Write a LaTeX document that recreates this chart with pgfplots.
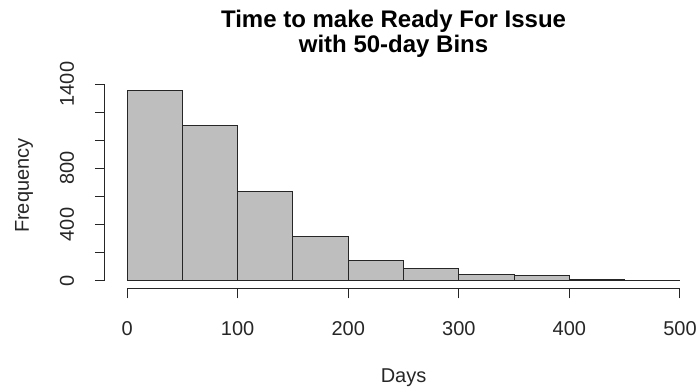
\documentclass[border=0pt]{standalone}
\usepackage{fontspec}
\setmainfont{Liberation Sans}
\usepackage{pgfplots}
\pgfplotsset{compat=1.18}

\definecolor{histfill}{HTML}{BEBEBE}
\definecolor{ink}{HTML}{262626}

\begin{document}
\begin{tikzpicture}
% page frame
\path[use as bounding box] (-78.75pt,-77.8pt) rectangle (445.5pt,216.2pt);
\clip (-78.75pt,-77.8pt) rectangle (445.5pt,216.2pt);
\begin{axis}[
  scale only axis,
  width=447.8pt, height=153.8pt,
  xmin=-20, xmax=520, ymin=-54.08, ymax=1406.08,
  clip=false,
  axis line style={draw=none},
  axis x line*=bottom, axis y line*=left,
  tick align=outside,
  major tick length=7.5pt,
  tick style={draw=ink, line width=0.75pt},
  xtick={0,100,...,500},
  ytick={0,200,...,1400},
  yticklabels={0,,400,,800,,,1400},
  /pgf/number format/assume math mode=true,
  ticklabel style={font=\fontsize{15}{18}\selectfont, text=ink},
  xticklabel style={anchor=center, yshift=-22.5pt},
  yticklabel style={xshift=-21pt, rotate=90, anchor=center},
  xlabel={Days},
  ylabel={Frequency},
  label style={font=\fontsize{15}{18}\selectfont, text=ink},
  xlabel style={at={(axis description cs:0.5,-0.4376)}, anchor=center},
  ylabel style={at={(axis description cs:-0.1357,0.5)}, anchor=center},
  title={Time to make Ready For Issue\\with 50-day Bins},
  title style={at={(axis description cs:0.4833,1.2035)}, anchor=center,
    align=center, font=\fontsize{18}{18.75}\bfseries\selectfont, text=black},
]
% histogram counts per 50-day bin
\addplot[ybar interval, fill=histfill, draw=ink, line width=0.8pt]
  coordinates {(0,1352) (50,1103) (100,638) (150,316) (200,145)
               (250,89) (300,45) (350,35) (400,5) (450,1) (500,1)};
% axis lines spanning first to last tick
\draw[ink, line width=0.75pt] (axis cs:0,-54.08) -- (axis cs:500,-54.08);
\draw[ink, line width=0.75pt] (axis cs:-20,0) -- (axis cs:-20,1400);
\end{axis}
\end{tikzpicture}
\end{document}
